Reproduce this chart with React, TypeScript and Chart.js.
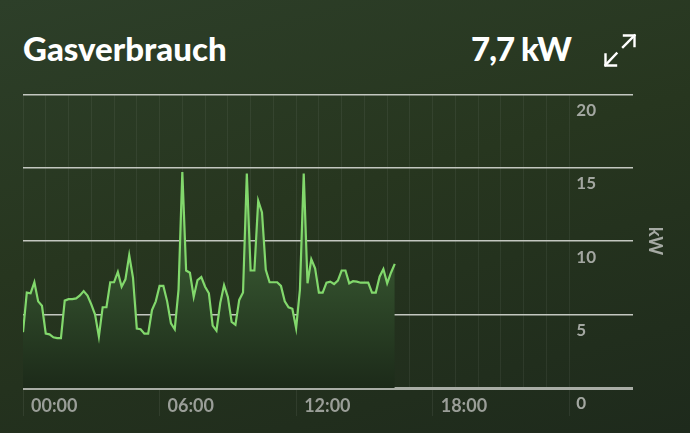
import React, { useEffect, useRef } from 'react';
import { Chart, registerables } from 'chart.js';

Chart.register(...registerables);

// ---- data ----
const TITLE = 'Gasverbrauch';
const CURRENT_VALUE = '7,7 kW';
const UNIT = 'kW';
const STEP_MINUTES = 10;
const gasKw = [
  3.8, 6.5, 6.45, 7.2, 5.9, 5.6, 3.7, 3.65, 3.45, 3.4,
  3.4, 5.95, 6.05, 6.05, 6.1, 6.3, 6.6, 6.3, 5.7, 5.0,
  3.5, 5.5, 5.5, 7.2, 7.2, 7.9, 6.9, 7.4, 9.05, 7.5,
  4.05, 4.0, 3.7, 3.7, 5.3, 5.9, 6.95, 6.95, 5.9, 4.4,
  4.0, 6.7, 14.7, 8.0, 7.85, 6.2, 7.35, 7.55, 6.9, 6.45,
  4.25, 3.9, 5.8, 7.0, 6.2, 4.5, 4.3, 6.0, 6.5, 14.6,
  8.0, 8.0, 12.75, 11.95, 8.05, 7.2, 7.2, 7.2, 6.95, 5.9,
  5.5, 5.4, 4.07, 6.7, 14.6, 7.13, 8.77, 8.15, 6.5, 6.5,
  7.17, 7.24, 7.08, 7.31, 8.0, 8.0, 7.13, 7.27, 7.24, 7.17,
  7.17, 7.17, 6.5, 6.5, 7.58, 8.1, 7.13, 7.85, 8.45,
];
const hourTicks = [0, 1, 2, 3, 4, 5, 6, 7, 8, 9, 10, 11, 12, 13, 14, 15, 16, 17, 18, 19, 20, 21, 22, 23, 24];
const xLabelHours = [0, 6, 12, 18];
const xLabels = ['00:00', '06:00', '12:00', '18:00'];
const yTicks = [0, 5, 10, 15, 20];
const DAY_END_HOUR = 24;
const X_MAX_HOURS = 26.8;

const yLabelPlugin = {
  id: 'yLabels',
  afterDraw(chart: any) {
    const { ctx, scales } = chart;
    const x = scales.x;
    const y = scales.y;
    ctx.save();
    ctx.fillStyle = '#a3a7a1';
    ctx.font = 'bold 17px Lato';
    ctx.textAlign = 'left';
    ctx.textBaseline = 'middle';
    const lx = x.getPixelForValue(DAY_END_HOUR) + 7;
    yTicks.forEach((v) => {
      ctx.fillText(String(v), lx, y.getPixelForValue(v) + 16);
    });
    ctx.restore();
  },
};

function GasChart() {
  const ref = useRef<HTMLCanvasElement | null>(null);
  useEffect(() => {
    if (!ref.current) return;
    const points = gasKw.map((v, i) => ({ x: (i * STEP_MINUTES) / 60, y: v }));
    const chart = new Chart(ref.current, {
      type: 'line',
      data: {
        datasets: [
          {
            data: points,
            borderColor: '#82d86c',
            borderWidth: 2.2,
            pointRadius: 0,
            tension: 0,
            fill: 'origin',
            backgroundColor: (c: any) => {
              const ch = c.chart;
              const area = ch.chartArea;
              if (!area) return '#2e4429';
              const g = ch.ctx.createLinearGradient(0, area.top, 0, area.bottom);
              g.addColorStop(0, '#4a6d3f');
              g.addColorStop(0.6, '#33502d');
              g.addColorStop(1, '#1c2a19');
              return g;
            },
          },
        ],
      },
      options: {
        responsive: false,
        animation: false,
        layout: { padding: { left: 23, top: 94.3, right: 0, bottom: 0 } },
        plugins: { legend: { display: false }, tooltip: { enabled: false } },
        scales: {
          x: {
            type: 'linear',
            min: 0,
            max: X_MAX_HOURS,
            afterBuildTicks: (s: any) => {
              s.ticks = hourTicks.map((v) => ({ value: v }));
            },
            afterFit: (s: any) => {
              s.height = 45;
            },
            border: { display: false },
            grid: {
              color: 'rgba(255,255,255,0.06)',
              lineWidth: 1,
              drawTicks: true,
              tickLength: 28,
              tickColor: (c: any) =>
                c.tick && c.tick.value % 6 === 0 ? 'rgba(255,255,255,0.07)' : 'rgba(0,0,0,0)',
            },
            ticks: {
              autoSkip: false,
              maxRotation: 0,
              align: 'start',
              labelOffset: 8,
              padding: -21,
              color: '#9a9e98',
              font: { family: 'Lato', size: 18, weight: 'bold' },
              callback: (v: any) => {
                const k = xLabelHours.indexOf(Number(v));
                return k >= 0 ? xLabels[k] : '';
              },
            },
          },
          y: {
            position: 'right',
            min: 0,
            max: 20,
            afterBuildTicks: (s: any) => {
              s.ticks = yTicks.map((v) => ({ value: v }));
            },
            afterFit: (s: any) => {
              s.width = 57;
            },
            border: { display: false },
            grid: {
              color: (c: any) => (c.tick && c.tick.value === 0 ? '#a9ada6' : '#c3c7c0'),
              lineWidth: (c: any) => (c.tick && c.tick.value === 0 ? 3 : 1.5),
              drawTicks: false,
            },
            ticks: { display: false },
            title: {
              display: true,
              text: UNIT,
              color: '#a6aaa4',
              font: { family: 'Lato', size: 18, weight: 'bold' },
              padding: { top: 24.7, bottom: 0 },
            },
          },
        },
      } as any,
      plugins: [yLabelPlugin],
    });
    return () => chart.destroy();
  }, []);
  return (
    <canvas
      ref={ref}
      width={690}
      height={433}
      style={{ position: 'absolute', left: 0, top: 0, width: 690, height: 433 }}
    />
  );
}

export default function App() {
  return (
    <div
      style={{
        position: 'absolute',
        left: 0,
        top: 0,
        width: 690,
        height: 433,
        overflow: 'hidden',
        background: 'linear-gradient(165deg, #2d3f29 0%, #27361f 45%, #1e2a1c 100%)',
        fontFamily: 'Lato, sans-serif',
      }}
    >
      <div
        style={{
          position: 'absolute',
          left: 23,
          top: 32,
          fontSize: 33,
          lineHeight: '33px',
          fontWeight: 900,
          color: '#ffffff',
          whiteSpace: 'nowrap',
        }}
      >
        {TITLE}
      </div>
      <div
        style={{
          position: 'absolute',
          right: 690 - 571,
          top: 32,
          fontSize: 33,
          lineHeight: '33px',
          fontWeight: 900,
          letterSpacing: -1,
          color: '#ffffff',
          whiteSpace: 'nowrap',
        }}
      >
        {CURRENT_VALUE}
      </div>
      <svg
        width={690}
        height={433}
        style={{ position: 'absolute', left: 0, top: 0, pointerEvents: 'none' }}
      >
        <g stroke="#ffffff" strokeWidth={2.4} fill="none" strokeLinecap="square">
          <path d="M623 47 L634.5 35.5" />
          <path d="M624 35.5 L634.5 35.5 L634.5 46" />
          <path d="M616.5 53.5 L605.5 65" />
          <path d="M605.5 54.5 L605.5 65.5 L616 65.5" />
        </g>
      </svg>
      <GasChart />
    </div>
  );
}
